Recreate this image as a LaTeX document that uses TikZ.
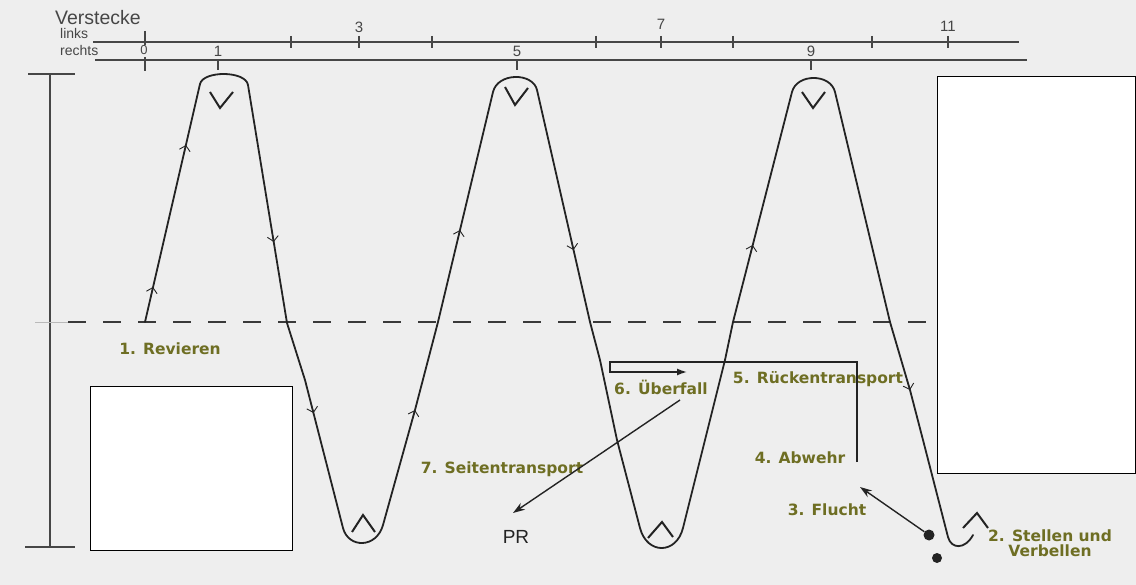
\documentclass[tikz,border=0pt]{standalone}
\usepackage{fontspec}
\setmainfont{Liberation Sans}
\newfontfamily\labfont{DejaVu Sans}
\usetikzlibrary{arrows.meta}
\definecolor{paper}{RGB}{238,238,238}
\definecolor{ink}{RGB}{35,35,35}
\definecolor{rulergray}{RGB}{70,70,70}
\definecolor{labolive}{RGB}{110,110,35}
\tikzset{
  zig/.style={draw=ink, line width=1.8pt, line join=round, line cap=round},
  barb/.style={draw=ink, line width=0.9pt, -{Straight Barb[length=5pt,width=11pt]}},
  vmark/.style={draw=ink, line width=2pt, line join=miter},
  lab/.style={text=labolive, font=\labfont\bfseries\fontsize{15.5}{15.5}\selectfont, inner sep=0pt},
  num/.style={text=rulergray, font=\fontsize{15}{15}\selectfont, inner sep=0pt},
  ruler/.style={draw=rulergray, line width=1.6pt},
  tickmark/.style={draw=rulergray, line width=1.2pt},
  route/.style={draw=ink, line width=1.4pt},
  blackdot/.style={circle, fill=ink, inner sep=0pt},
  whitebox/.style={draw=black, fill=white, line width=1pt, inner sep=0pt},
}
\begin{document}
\begin{tikzpicture}[x=1pt,y=-1pt]
\useasboundingbox (0,0) rectangle (1136,585);
\fill[paper] (0,0) rectangle (1136,585);

% ruler
\node[anchor=base west, text=rulergray, font=\fontsize{19.5}{19.5}\selectfont, inner sep=0pt] (verst) at (55,25) {Verstecke};
\node[anchor=base west, text=rulergray, font=\fontsize{14}{14}\selectfont, inner sep=0pt] (links) at (60,39) {links};
\node[anchor=base west, text=rulergray, font=\fontsize{14}{14}\selectfont, inner sep=0pt] (rechts) at (60,56) {rechts};
\draw[ruler] (93,42) -- (1019,42);
\draw[ruler] (95,60) -- (1027,60);
\foreach \x in {291,359,432,596,661,733,872,948} \draw[tickmark] (\x,36) -- (\x,48);
\draw[tickmark] (145,31) -- (145,45);
\draw[tickmark] (145,57) -- (145,71);
\foreach \x in {218,517,811} \draw[tickmark] (\x,60) -- (\x,70);
\node[num, font=\fontsize{13}{13}\selectfont] (n0) at (144,50) {0};
\node[num] (n1) at (218,51) {1};
\node[num] (n3) at (359,27) {3};
\node[num] (n5) at (517,51) {5};
\node[num] (n7) at (661,24) {7};
\node[num] (n9) at (811,51) {9};
\node[num] (n11) at (948,26) {11};

% vertical bar
\draw[draw=rulergray, line width=1.8pt] (50,74) -- (50,547);
\draw[draw=rulergray, line width=1.8pt] (28,74) -- (75,74);
\draw[draw=rulergray, line width=1.8pt] (25,547) -- (75,547);

% dashed line
\draw[gray!55, line width=0.6pt] (35,322) -- (68,322);
\draw[draw=ink!90, line width=2.6pt, dash pattern=on 18pt off 17pt] (68,322) -- (935,322);

% zigzag path
\coordinate (start) at (145,322);
\draw[zig] (start) -- (200,84) .. controls (203.1,70.5) and (245.6,70.5) .. (248,85)
  -- (287,323) -- (305,380) -- (343,528) .. controls (348.3,548.5) and (376.5,548.5) .. (383,525)
  -- (415,410) -- (438,322) -- (493,92) .. controls (497.7,72.3) and (533,72.3) .. (537,90)
  -- (590,322) -- (600,360) -- (617,440) -- (640,528) .. controls (647,554.7) and (676.3,554.7) .. (683,528)
  -- (705,440) -- (725,360) -- (733,322) -- (792,92) .. controls (796.8,73.3) and (830.5,73.3) .. (835,92)
  -- (890,322) -- (910,390) -- (923,440) -- (948,537) .. controls (951,549) and (965,550) .. (973,535);

% direction barbs
\draw[barb] (150.7,297) -- (153,287);
\draw[barb] (183.7,155) -- (186,145);
\draw[barb] (272.1,232) -- (273.7,242);
\draw[barb] (311,403) -- (313.5,413);
\draw[barb] (412.2,420) -- (415,410);
\draw[barb] (457.6,240) -- (460,230);
\draw[barb] (571.2,240) -- (573.5,250);
\draw[barb] (750.2,255) -- (752.7,245);
\draw[barb] (907,380) -- (910,390);

% V and ^ marks
\draw[vmark] (210,92) -- (220,108) -- (233,92);
\draw[vmark] (505,87) -- (515,105) -- (528,88);
\draw[vmark] (802,92) -- (813,108) -- (825,92);
\draw[vmark] (352,532) -- (363,515) -- (375,532);
\draw[vmark] (648,538) -- (662,522) -- (673,537);
\draw[vmark] (963,528) -- (977,513) -- (988,528);

% labels
\node[lab] (l1) at (170,349) {1. Revieren};
\node[lab] (l6) at (661,387) {6. Überfall};
\node[lab] (l5) at (818,379) {5. Rückentransport};
\node[lab] (l4) at (800,458) {4. Abwehr};
\node[lab] (l7) at (502,469) {7. Seitentransport};
\node[lab] (l3) at (827,510) {3. Flucht};
\node[lab, align=center] (l2) at (1050,543) {2. Stellen und\\Verbellen};
\node[text=ink, font=\fontsize{19}{19}\selectfont, inner sep=0pt] (pr) at (516,537) {PR};

% routes
\coordinate (abw) at (857,462);
\coordinate (uebtip) at (687,372);
\draw[route, -{Latex[length=10pt,width=7pt]}] (abw) -- (857,362) -- (610,362) -- (610,372) -- (uebtip);
\coordinate (seitA) at (680,400);
\coordinate (prtip) at (513,513);
\draw[route, -{Stealth[length=12pt,width=8pt]}] (seitA) -- (prtip);
\node[blackdot, minimum size=11pt] (dot1) at (929,535) {};
\node[blackdot, minimum size=10pt] (dot2) at (937,558) {};
\coordinate (fltip) at (860,487);
\draw[route, -{Stealth[length=12pt,width=8pt]}] (dot1) -- (fltip);

% white boxes
\node[whitebox, minimum width=202pt, minimum height=163pt] (boxL) at (191,468.5) {};
\node[whitebox, minimum width=198pt, minimum height=396pt] (boxR) at (1036,275) {};
\end{tikzpicture}
\end{document}
